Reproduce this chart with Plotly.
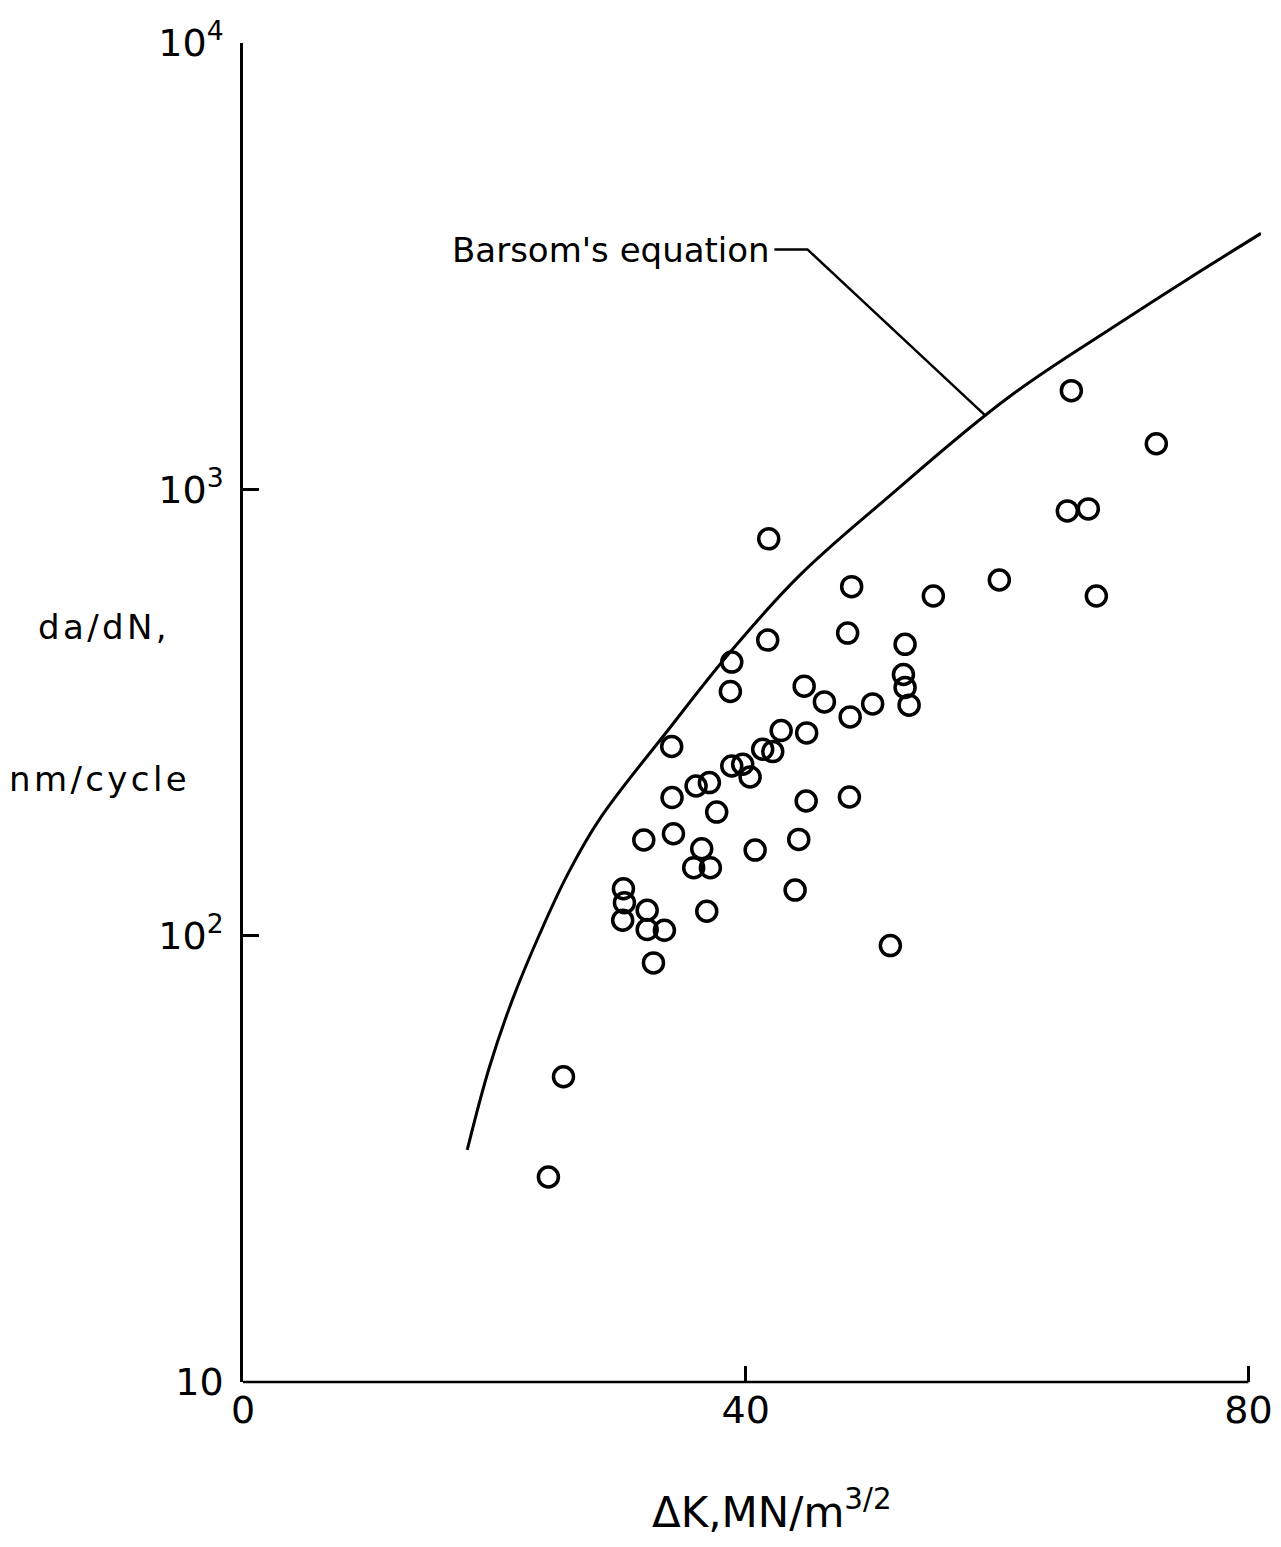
import plotly.graph_objects as go

# ---- data ----
# Measured crack growth rates (open circles)
dK = [24.30, 25.50, 30.27, 30.35, 30.21, 32.16, 32.16, 33.53, 32.66, 31.89,
      34.11, 34.14, 34.25, 35.86, 36.50, 37.19, 36.90, 36.05, 37.11, 37.69,
      38.78, 38.89, 38.89, 39.76, 40.35, 40.75, 41.35, 42.15, 41.75, 41.83,
      42.82, 43.93, 44.22, 44.65, 44.85, 44.81, 46.26, 48.11, 48.43, 48.31,
      48.25, 50.10, 51.51, 52.68, 52.55, 52.68, 53.00, 54.93, 60.18, 65.91,
      65.59, 67.26, 67.90, 72.67]
dadN = [28.8, 48.3, 127.4, 118.5, 108.3, 114.0, 103.2, 102.8, 86.9, 163.8,
        265.3, 203.9, 169.2, 142.0, 156.6, 142.0, 113.4, 216.4, 220.3, 189.2,
        352.5, 410.1, 240.0, 242.1, 226.7, 155.5, 261.6, 258.5, 459.5, 774.5,
        288.1, 126.5, 164.3, 362.2, 284.6, 200.3, 334.0, 476.4, 605.3, 309.1,
        204.5, 330.6, 95.0, 449.4, 384.8, 359.8, 328.4, 576.8, 626.5, 1664,
        894.7, 904.0, 576.8, 1265]

# Barsom's equation curve
curve_dK = [17.84, 19.61, 21.44, 23.59, 25.82, 28.36, 33.67, 38.97, 44.27,
            51.17, 60.84, 69.47, 75.04, 81.0]
curve_rate = [33.1, 50.8, 71.9, 100.6, 137.0, 182.2, 285.2, 438.6, 640.8,
              952, 1602, 2331, 2942, 3745]

# Leader line from the label to the curve
leader_dK = [42.28, 44.91, 58.99]
leader_rate = [3448, 3448, 1470]

x_ticks = [0, 40, 80]
y_ticks = [10, 100, 1000, 10000]
y_ticktext = ["10", "10<sup>2</sup>", "10<sup>3</sup>", "10<sup>4</sup>"]

FONT = "DejaVu Sans"
HS = "\u200a"  # hair space for the widely spaced lettering

fig = go.Figure()
fig.add_trace(go.Scatter(x=curve_dK, y=curve_rate, mode="lines",
                         line=dict(color="black", width=3, shape="spline", smoothing=1.1),
                         showlegend=False, hoverinfo="skip"))
fig.add_trace(go.Scatter(x=leader_dK, y=leader_rate, mode="lines",
                         line=dict(color="black", width=2.5),
                         showlegend=False, hoverinfo="skip"))
fig.add_trace(go.Scatter(x=dK, y=dadN, mode="markers",
                         marker=dict(symbol="circle-open", size=20, color="black",
                                     line=dict(color="black", width=3.5)),
                         showlegend=False))

# x axis line only up to 80
fig.add_shape(type="line", xref="x", yref="paper", x0=0, x1=80, y0=0, y1=0,
              line=dict(color="black", width=2.5))

# the page body has an 8px margin, so the figure is placed 8px in from the corner
fig.update_layout(
    width=1273, height=1531,
    margin=dict(l=235, r=20, t=35, b=157),
    paper_bgcolor="white", plot_bgcolor="white",
    font=dict(family=FONT, color="black"),
    xaxis=dict(range=[0, 81], tickvals=x_ticks, ticks="inside", ticklen=16,
               tickwidth=2.5, tickcolor="black", showline=False, showgrid=False,
               zeroline=False, tickfont=dict(size=38, family=FONT, color="black"),
               ticklabelstandoff=2, automargin=False),
    yaxis=dict(type="log", range=[1, 4], tickvals=y_ticks, ticktext=y_ticktext,
               ticks="inside", ticklen=16, tickwidth=2.5, tickcolor="black",
               showline=True, linewidth=2.5, linecolor="black", showgrid=False,
               zeroline=False, tickfont=dict(size=38, family=FONT, color="black"),
               ticklabelstandoff=9, automargin=False),
    annotations=[
        dict(text="Barsom's equation", xref="paper", yref="paper",
             x=(450 - 243) / 1018, y=(1382 - 250) / 1339, xanchor="left", yanchor="middle",
             showarrow=False, font=dict(size=34, family=FONT, color="black")),
        dict(text=HS.join("da/dN,"), xref="paper", yref="paper",
             x=(102 - 243) / 1018, y=(1382 - 627) / 1339, xanchor="center", yanchor="middle",
             showarrow=False, font=dict(size=34, family=FONT, color="black")),
        dict(text=HS.join("nm/cycle"), xref="paper", yref="paper",
             x=(98 - 243) / 1018, y=(1382 - 779) / 1339, xanchor="center", yanchor="middle",
             showarrow=False, font=dict(size=34, family=FONT, color="black")),
        dict(text="ΔK,MN/m<sup>3/2</sup>", xref="paper", yref="paper",
             x=(772 - 243) / 1018, y=0, xanchor="center", yanchor="top", yshift=-98,
             showarrow=False, font=dict(size=42, family=FONT, color="black")),
    ],
)

fig.write_html("out.html")
